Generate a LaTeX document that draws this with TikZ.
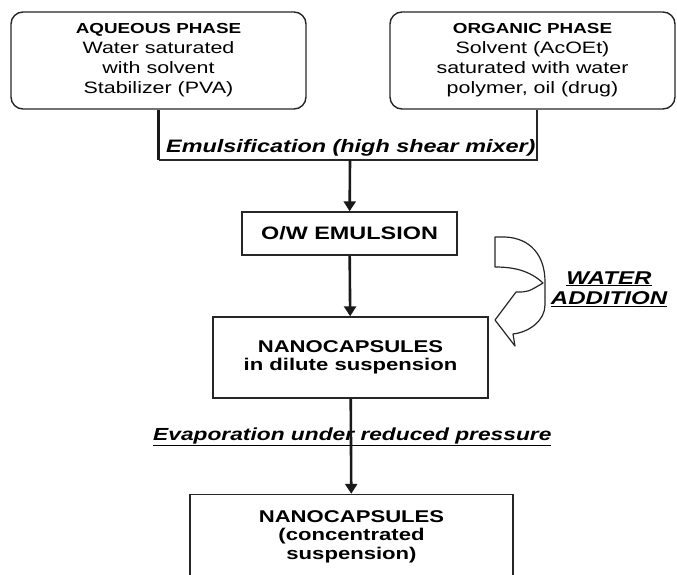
\documentclass[tikz,border=0pt]{standalone}
\usepackage{fontspec}
\setmainfont[FakeStretch=1.3]{Liberation Sans}
\usetikzlibrary{arrows.meta}
\begin{document}
\begin{tikzpicture}[x=1pt, y=-1pt, >={Triangle[width=12pt,length=10pt]},
        phase/.style={draw=black!85, line width=1.4pt, rounded corners=12pt, align=center,
            minimum width=#1, minimum height=97pt, inner sep=0pt,
            font=\fontsize{16.5}{20}\selectfont},
        stepbox/.style={draw=black!85, line width=1.4pt, align=center, inner sep=0pt,
            font=\bfseries\fontsize{17}{18.5}\selectfont},
        flow/.style={->, line width=2.6pt, black!90},
        note/.style={font=\bfseries\itshape\fontsize{18}{20}\selectfont, inner sep=0pt}]
        \useasboundingbox (0,0) rectangle (677,575);
        \node[phase=295pt] (aqueous) at (158.5, 60.5) {{\bfseries\fontsize{14.5}{18}\selectfont AQUEOUS PHASE}\\Water saturated\\with solvent\\Stabilizer (PVA)};
        \node[phase=285pt] (organic) at (532.5, 60.5) {{\bfseries\fontsize{14.5}{18}\selectfont ORGANIC PHASE}\\Solvent (AcOEt)\\saturated with water\\polymer, oil (drug)};
        \coordinate (mix) at (350, 160);
        \node[note, anchor=base west] (emul-label) at (166, 153) {Emulsification (high shear mixer)};
        \draw[line width=3pt, black!90] (aqueous.south) -- (aqueous.south |- mix);
        \draw[line width=1.4pt, black!85] (aqueous.south |- mix) -| ([xshift=4.5pt]organic.south);
        \node[stepbox, minimum width=215pt, minimum height=43pt, font=\bfseries\fontsize{18}{20}\selectfont] (emulsion) at (349.5, 233.5) {O/W EMULSION};
        \node[stepbox, minimum width=275pt, minimum height=81pt] (dilute) at (350.5, 357.5) {NANOCAPSULES\\in dilute suspension};
        \node[stepbox, minimum width=323pt, minimum height=84pt] (final) at (351.5, 536.5) {NANOCAPSULES\\(concentrated\\suspension)};
        \node[note, anchor=base west, font=\bfseries\itshape\fontsize{17.5}{20}\selectfont] (evap-label) at (153, 440) {\underline{Evaporation under reduced pressure}};
        \node[note, align=center, font=\bfseries\itshape\fontsize{18.5}{20}\selectfont] (water-label) at (609, 289) {\underline{WATER}\\\underline{ADDITION}};
        \draw[flow] (mix) -- (emulsion);
        \draw[flow] (emulsion) -- (dilute);
        \draw[flow] (dilute) -- (final);
        % curved arrow for the water addition
        \draw[black!85, line width=1.2pt, line join=round] (495,237) -- (505,237) .. controls (530,238) and (545,255) .. (545,282) -- (545,305) .. controls (545,320) and (530,332) .. (513,334) -- (515,346) -- (495,320) -- (516,292) .. controls (528,292) .. (543,283) .. controls (530,271) and (515,267) .. (495,267) -- cycle;
    \end{tikzpicture}
\end{document}
